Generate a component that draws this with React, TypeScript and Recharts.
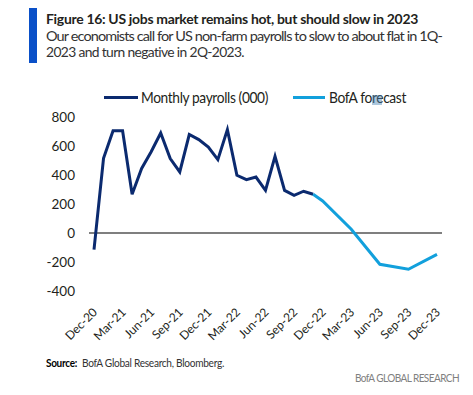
import React from "react";
import { LineChart, Line, XAxis, YAxis, ReferenceLine } from "recharts";

const months = [
  "Dec-20", "Jan-21", "Feb-21", "Mar-21", "Apr-21", "May-21", "Jun-21", "Jul-21", "Aug-21", "Sep-21", "Oct-21", "Nov-21",
  "Dec-21", "Jan-22", "Feb-22", "Mar-22", "Apr-22", "May-22", "Jun-22", "Jul-22", "Aug-22", "Sep-22", "Oct-22", "Nov-22",
  "Dec-22", "Jan-23", "Feb-23", "Mar-23", "Apr-23", "May-23", "Jun-23", "Jul-23", "Aug-23", "Sep-23", "Oct-23", "Nov-23",
  "Dec-23",
];

const payrolls: (number | null)[] = [
  -115, 515, 705, 705, 267, 445, 560, 690, 513, 421, 679, 644,
  592, 506, 713, 398, 368, 386, 294, 529, 294, 260, 288, 267,
  null, null, null, null, null, null, null, null, null, null, null, null,
  null,
];

const forecast: (number | null)[] = [
  null, null, null, null, null, null, null, null, null, null, null, null,
  null, null, null, null, null, null, null, null, null, null, null, 267,
  221, null, null, 26, null, null, -216, null, null, -250, null, null,
  -147,
];

const yTicks = [-400, -200, 0, 200, 400, 600, 800];

const data = months.map((m, i) => ({ month: m, payrolls: payrolls[i], forecast: forecast[i] }));

const NAVY = "#0b2a6f";
const LIGHT = "#12a0dc";
const TEXT = "#231f20";
const FONT = "Lato, 'Open Sans', sans-serif";

const XTick = (props: any) => {
  const { x, y, payload } = props;
  return (
    <text
      x={x + 4}
      y={y + 14}
      transform={`rotate(-45 ${x + 4} ${y + 14})`}
      textAnchor="end"
      fontSize={12}
      fontFamily={FONT}
      fill={TEXT}
    >
      {payload.value}
    </text>
  );
};

export default function App() {
  return (
    <div style={{ position: "absolute", left: 0, top: 0, width: 473, height: 395, background: "#fff" }}>
      <div style={{ position: "absolute", left: 0, top: 0 }}>
        <LineChart width={473} height={395} data={data} margin={{ top: 117, right: 31, bottom: 54, left: 29 }}>
          <XAxis
            dataKey="month"
            interval={2}
            axisLine={false}
            tickLine={false}
            height={50}
            padding={{ left: 5, right: 5 }}
            tick={<XTick />}
          />
          <YAxis
            domain={[-400, 800]}
            ticks={yTicks}
            axisLine={false}
            tickLine={false}
            width={60}
            tickSize={6}
            tickMargin={8}
            tick={{ fontSize: 13.5, fontFamily: FONT, fill: TEXT }}
          />
          <ReferenceLine y={0} stroke="#000" strokeWidth={1.2} />
          <Line
            type="linear"
            dataKey="payrolls"
            stroke={NAVY}
            strokeWidth={3}
            dot={false}
            isAnimationActive={false}
          />
          <Line
            type="linear"
            dataKey="forecast"
            stroke={LIGHT}
            strokeWidth={3}
            dot={false}
            connectNulls
            isAnimationActive={false}
          />
        </LineChart>
      </div>
      <svg width={473} height={395} style={{ position: "absolute", left: 0, top: 0, pointerEvents: "none" }}>
        <rect x={29} y={8} width={8} height={55} fill="#0a50c8" />
        <text x={46} y={24} fontSize={13.5} fontWeight={700} fontFamily={FONT} fill={TEXT} letterSpacing={-0.3} textLength={372} lengthAdjust="spacingAndGlyphs">
          Figure 16: US jobs market remains hot, but should slow in 2023
        </text>
        <text x={46} y={40.7} fontSize={13} fontFamily={FONT} fill="#333" letterSpacing={-0.8} textLength={396} lengthAdjust="spacingAndGlyphs">
          Our economists call for US non-farm payrolls to slow to about flat in 1Q-
        </text>
        <text x={46} y={57.3} fontSize={13} fontFamily={FONT} fill="#333" letterSpacing={-0.6} textLength={198} lengthAdjust="spacingAndGlyphs">
          2023 and turn negative in 2Q-2023.
        </text>

        <line x1={104} y1={97.5} x2={138} y2={97.5} stroke={NAVY} strokeWidth={3} />
        <text x={141} y={103.3} fontSize={15} fontFamily={FONT} fill={TEXT} letterSpacing={-0.4} textLength={127} lengthAdjust="spacingAndGlyphs">
          Monthly payrolls (000)
        </text>
        <line x1={293} y1={97.5} x2={325} y2={97.5} stroke={LIGHT} strokeWidth={3} />
        <text x={329} y={103.3} fontSize={15} fontFamily={FONT} fill={TEXT} letterSpacing={-0.4} textLength={77} lengthAdjust="spacingAndGlyphs">
          BofA forecast
        </text>
        <rect x={372} y={95} width={10} height={10} fill="rgba(70,130,180,0.45)" />

        <text x={46} y={366.7} fontSize={10.5} fontWeight={700} fontFamily={FONT} fill="#000" letterSpacing={-0.3} textLength={31} lengthAdjust="spacingAndGlyphs">
          Source:
        </text>
        <text x={82} y={366.7} fontSize={10.5} fontFamily={FONT} fill="#333" letterSpacing={-0.3} textLength={142} lengthAdjust="spacingAndGlyphs">
          BofA Global Research, Bloomberg.
        </text>
        <text x={355} y={381.7} fontSize={10.5} fontFamily={FONT} fill="#808080" letterSpacing={-0.6} textLength={104} lengthAdjust="spacingAndGlyphs">
          BofA GLOBAL RESEARCH
        </text>
      </svg>
    </div>
  );
}
